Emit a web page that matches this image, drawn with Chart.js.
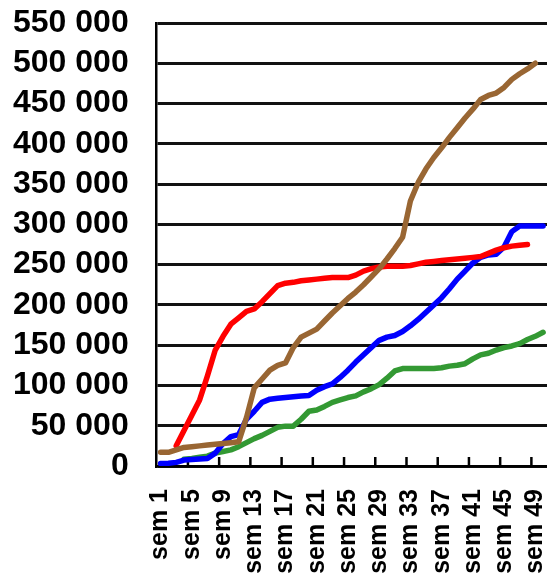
<!DOCTYPE html>
<html>
<head>
<meta charset="utf-8">
<script src="https://cdn.jsdelivr.net/npm/chart.js@4"></script>
<style>
  body { margin: 0; background: #fff; overflow: hidden; }
</style>
</head>
<body>
<canvas id="semainesChart" width="547" height="579"></canvas>
<script>
Chart.defaults.font.family = '"Liberation Sans", Arial, sans-serif'
Chart.defaults.color = '#000'

const semaines = [
    'sem 1', 'sem 2', 'sem 3', 'sem 4', 'sem 5', 'sem 6', 'sem 7', 'sem 8', 'sem 9', 'sem 10',
    'sem 11', 'sem 12', 'sem 13', 'sem 14', 'sem 15', 'sem 16', 'sem 17', 'sem 18', 'sem 19', 'sem 20',
    'sem 21', 'sem 22', 'sem 23', 'sem 24', 'sem 25', 'sem 26', 'sem 27', 'sem 28', 'sem 29', 'sem 30',
    'sem 31', 'sem 32', 'sem 33', 'sem 34', 'sem 35', 'sem 36', 'sem 37', 'sem 38', 'sem 39', 'sem 40',
    'sem 41', 'sem 42', 'sem 43', 'sem 44', 'sem 45', 'sem 46', 'sem 47', 'sem 48', 'sem 49', 'sem 50'
]

const serieMarron = [
    17000, 17000, 20000, 23000, 24000, 25000, 26000, 27000, 28000, 29000,
    30000, 60000, 97000, 108000, 119000, 125000, 128000, 147000, 160000, 165000,
    170000, 180000, 190000, 199000, 208000, 216000, 225000, 235000, 245000, 257000,
    270000, 284000, 329000, 352000, 369000, 383000, 395000, 408000, 420000, 432000,
    443000, 455000, 460000, 463000, 470000, 480000, 487000, 493000, 500000, null
]

const serieRouge = [
    null, null, 25000, 44000, 63000, 82000, 112000, 144000, 161000, 176000,
    184000, 192000, 195000, 204000, 214000, 224000, 227000, 228000, 230000, 231000,
    232000, 233000, 234000, 234000, 234000, 237000, 242000, 245000, 247000, 248000,
    248000, 248000, 249000, 251000, 253000, 254000, 255000, 256000, 257000, 258000,
    259000, 260000, 264000, 268000, 271000, 273000, 274000, 275000, null, null
]

const serieBleue = [
    3000, 3500, 4500, 7400, 8100, 8800, 9400, 16000, 28000, 36500,
    39000, 58000, 68000, 79000, 83000, 84000, 85000, 86000, 87000, 87500,
    94000, 98500, 102000, 110000, 119000, 129000, 138000, 147000, 156000, 160000,
    162000, 167000, 174000, 182000, 191000, 200000, 209000, 220000, 232000, 242000,
    252000, 259000, 262000, 263000, 272000, 291000, 298000, 298000, 298000, 298000
]

const serieVerte = [
    null, null, null, 8300, 9400, 10800, 12300, 16000, 18000, 20000,
    24000, 29000, 34000, 38000, 43000, 48000, 49500, 49500, 58000, 68000,
    69500, 74000, 79000, 82000, 85000, 87000, 92000, 96000, 101000, 109000,
    118000, 121000, 121000, 121000, 121000, 121000, 122000, 124000, 125000, 127000,
    133000, 138000, 140000, 144000, 147000, 149000, 152000, 157000, 161000, 166000
]

const yMax = 550000
const yStep = 50000
const labelEvery = 4

const formatMilliers = v => String(v).replace(/\B(?=(\d{3})+(?!\d))/g, ' ')

const ligne = (label, data, color) => ({
    label,
    data,
    borderColor: color,
    backgroundColor: color,
    borderWidth: 5.5,
    pointRadius: 0,
    tension: 0,
    borderCapStyle: 'round',
    borderJoinStyle: 'round'
})

// petits traits de graduation vers l'intérieur, toutes les 4 semaines
const tickInterieur = {
    id: 'tickInterieur',
    beforeDatasetsDraw(chart) {
        const { ctx, scales: { x }, chartArea } = chart
        ctx.save()
        ctx.strokeStyle = '#000'
        ctx.lineWidth = 2.5
        for (let i = labelEvery; i < semaines.length; i += labelEvery) {
            const px = (x.getPixelForValue(i - 1) + x.getPixelForValue(i)) / 2
            ctx.beginPath()
            ctx.moveTo(px, chartArea.bottom)
            ctx.lineTo(px, chartArea.bottom - 9)
            ctx.stroke()
        }
        ctx.restore()
    }
}

const data = {
    labels: semaines,
    datasets: [
        ligne('Série 4', serieMarron, '#996633'),
        ligne('Série 1', serieRouge, '#ff0000'),
        ligne('Série 2', serieBleue, '#0000ff'),
        ligne('Série 3', serieVerte, '#339933')
    ]
}

const options = {
    responsive: false,
    animation: false,
    layout: { padding: { top: 23, right: 0, bottom: 0, left: 0 } },
    plugins: {
        legend: { display: false },
        tooltip: { enabled: false }
    },
    scales: {
        x: {
            offset: true,
            grid: { display: true, drawOnChartArea: false, drawTicks: false },
            border: { color: '#000', width: 2.5 },
            ticks: {
                autoSkip: false,
                minRotation: 90,
                maxRotation: 90,
                padding: 23,
                font: { size: 25, weight: 'bold' },
                callback: (v, i) => i % labelEvery === 0 ? semaines[i] : ''
            },
            afterFit: scale => {
                scale.height = 113
                scale.paddingLeft = 0
                scale.paddingRight = 0
            }
        },
        y: {
            min: 0,
            max: yMax,
            grid: { color: '#111', lineWidth: 3, drawTicks: false },
            border: { color: '#000', width: 2.5 },
            ticks: {
                autoSkip: false,
                stepSize: yStep,
                padding: 28,
                font: { size: 32, weight: 'bold' },
                callback: v => formatMilliers(v)
            },
            afterFit: scale => {
                scale.width = 156.7
                scale.paddingTop = 0
                scale.paddingBottom = 0
            }
        }
    }
}

new Chart('semainesChart', { type: 'line', data, options, plugins: [tickInterieur] })
</script>
</body>
</html>
